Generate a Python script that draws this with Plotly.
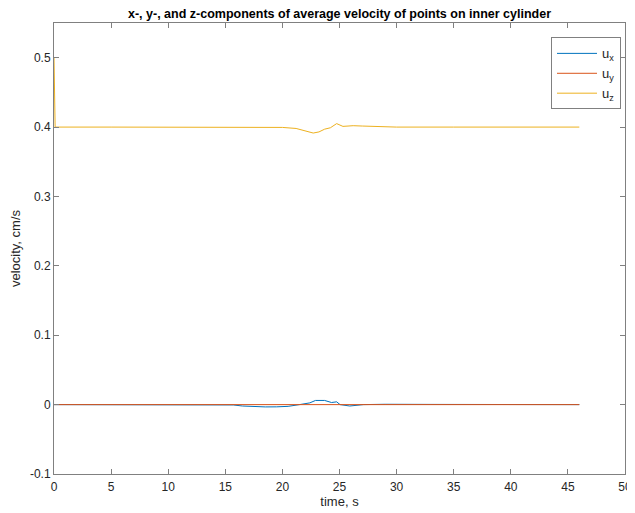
import plotly.graph_objects as go

# time samples and series values
t_ux = [0, 15, 15.7, 16.5, 17.5, 18.5, 19.5, 20.5, 21.5, 22.4, 22.9, 23.7, 24.3, 24.75, 25.05, 25.9, 27.1, 29, 33, 46]
ux = [0, 0, -0.0005, -0.002, -0.003, -0.0033, -0.0032, -0.0025, 0, 0.0025, 0.006, 0.006, 0.003, 0.004, 0, -0.002, 0, 0.0005, 0.0003, 0]

t_uy = [0, 10, 20, 30, 46]
uy = [0, 0, 0, 0, 0]

t_uz = [0, 0.1, 5, 10, 15, 18, 20, 21.2, 22, 22.7, 23.2, 23.7, 24.2, 24.75, 25.3, 26.2, 27, 28, 30, 35, 46]
uz = [0.5, 0.4, 0.4, 0.4, 0.4, 0.4, 0.3995, 0.398, 0.395, 0.3914, 0.393, 0.397, 0.399, 0.405, 0.401, 0.402, 0.4015, 0.401, 0.4, 0.4, 0.4]

x_ticks = [0, 5, 10, 15, 20, 25, 30, 35, 40, 45, 50]
y_ticks = [-0.1, 0, 0.1, 0.2, 0.3, 0.4, 0.5]
y_tick_labels = ["-0.1", "0", "0.1", "0.2", "0.3", "0.4", "0.5"]

font = "Liberation Sans, Arial, Helvetica, sans-serif"
axis_col = "#262626"

fig = go.Figure()
fig.add_trace(go.Scatter(x=t_ux, y=ux, mode="lines", name="u<sub>x</sub>",
                         line=dict(color="#0072BD", width=1)))
fig.add_trace(go.Scatter(x=t_uy, y=uy, mode="lines", name="u<sub>y</sub>",
                         line=dict(color="#D95319", width=1)))
fig.add_trace(go.Scatter(x=t_uz, y=uz, mode="lines", name="u<sub>z</sub>",
                         line=dict(color="#EDB120", width=1)))

common_axis = dict(showgrid=False, zeroline=False, showline=True, linecolor="#808080",
                   linewidth=1, mirror="ticks", ticks="inside", ticklen=5,
                   tickcolor="#808080", automargin=False,
                   tickfont=dict(size=12, color=axis_col, family=font))

# the page adds an 8px body margin, so the figure is sized to fit inside the window
fig.update_layout(
    width=627, height=505,
    margin=dict(l=46, r=10, t=15, b=39),
    paper_bgcolor="white", plot_bgcolor="white",
    font=dict(family=font, color=axis_col, size=12),
    title=dict(text="<b>x-, y-, and z-components of average velocity of points on inner cylinder</b>",
               x=0.5, xref="paper", xanchor="center", y=0.998, yref="container", yanchor="top",
               pad=dict(t=0),
               font=dict(size=12.5, color="black", family=font)),
    xaxis=dict(range=[0, 50], tickvals=x_ticks, ticklabelstandoff=2,
               title=dict(text="time, s", font=dict(size=13, color=axis_col), standoff=2),
               **common_axis),
    yaxis=dict(range=[-0.1, 0.55], tickvals=y_ticks, ticktext=y_tick_labels,
               title=dict(text="velocity, cm/s", font=dict(size=13, color=axis_col), standoff=6),
               **common_axis),
    legend=dict(x=0.993, y=0.968, xanchor="right", yanchor="top",
                bordercolor="#808080", borderwidth=1, bgcolor="white",
                font=dict(size=13, color=axis_col, family=font),
                itemwidth=40, tracegroupgap=2),
    showlegend=True,
)

fig.write_html("out.html")
